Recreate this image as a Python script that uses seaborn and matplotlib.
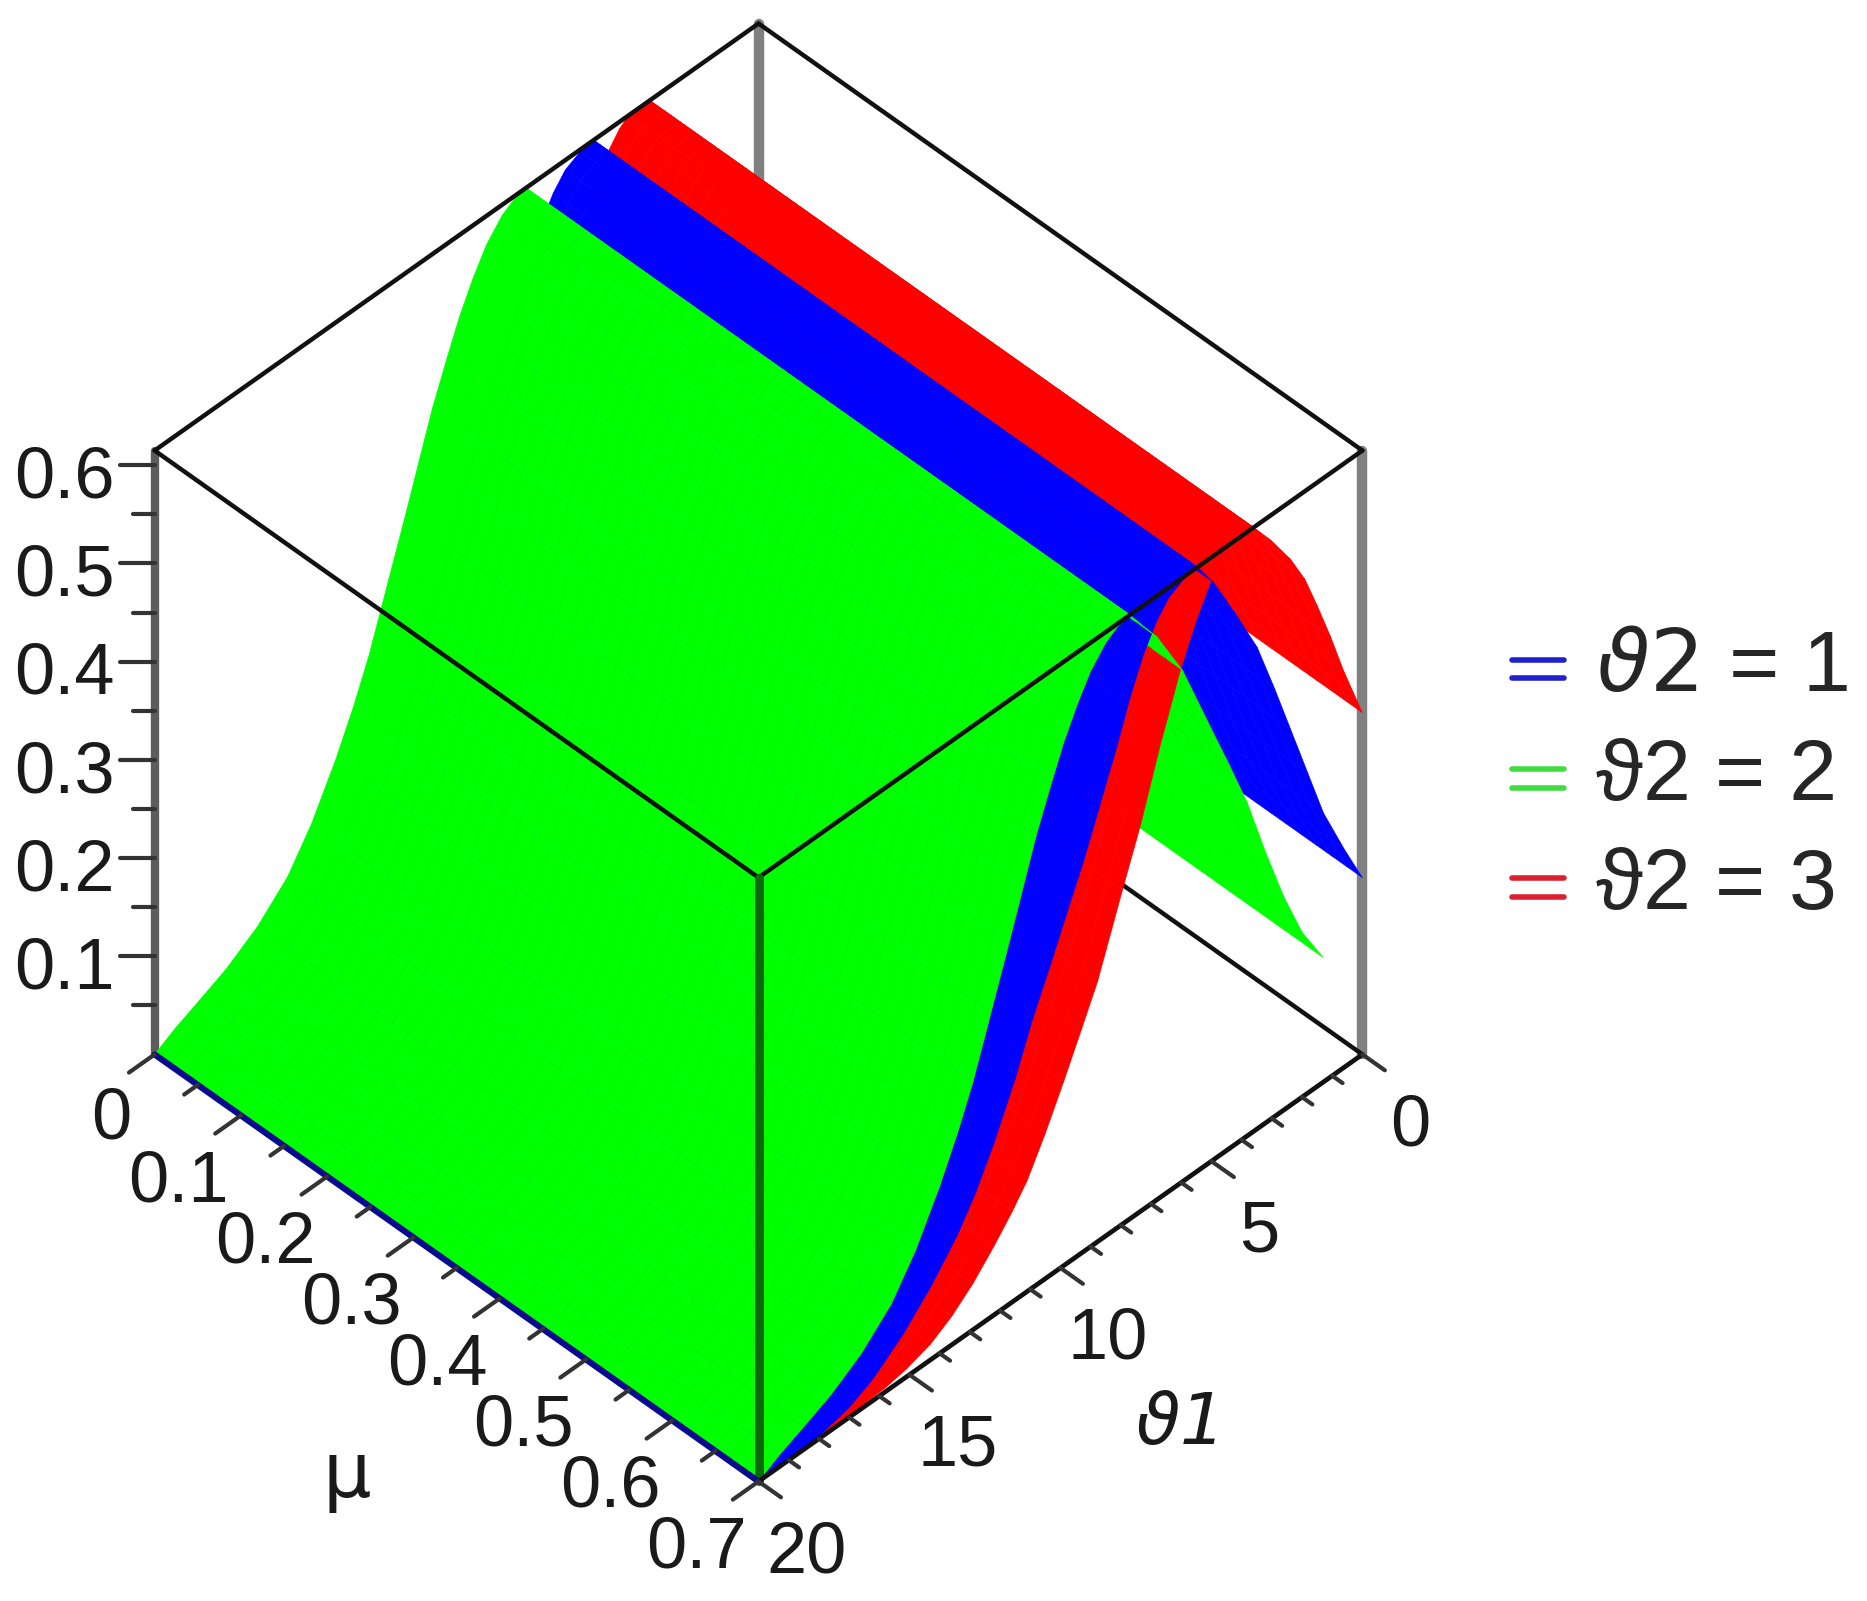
import matplotlib
matplotlib.use('Agg')
import matplotlib.pyplot as plt
import numpy as np
import seaborn as sns
from matplotlib.legend_handler import HandlerBase
from matplotlib.lines import Line2D
from mpl_toolkits.mplot3d import proj3d
from mpl_toolkits.mplot3d.art3d import Poly3DCollection

# values, z does not depend on mu
theta_green = [20, 19.3, 18.5, 17.6, 16.6, 15.6, 14.8, 14, 13.4, 12.9, 12.3, 11.7, 11.2, 10.8, 10.3, 9.9, 9.44, 9, 8.5, 8.1,
               7.7, 7.3, 6.8, 6.4, 5.96, 5, 4.4, 3.81, 3.2, 2.6, 2, 1.3]
z_green = [0, .012, .023, .036, .056, .085, .122, .170, .212, .252, .310, .368, .418, .458, .500, .532, .562, .586, .604, .612,
           .615, .596, .573, .548, .521, .44, .39, .339, .275, .217, .168, .127]
theta_blue = [20, 19, 18, 17.5, 17, 16.2, 15.2, 14.3, 13.4, 12.8, 12.2, 11.5, 10.9, 10.3, 9.77, 9.24, 8.7, 8.11, 7.7, 7.25,
              6.8, 6.4, 5.9, 5.46, 4.93, 4.2, 3.48, 2.9, 2.38, 1.8, 1.29, .6, 0]
z_blue = [0, .001, .003, .006, .010, .022, .046, .074, .108, .138, .175, .225, .275, .318, .358, .397, .442, .492, .530, .565,
          .590, .605, .613, .615, .588, .54, .49, .435, .383, .325, .274, .222, .18]
theta_red = [20, 19, 18, 17, 16.4, 15.8, 15.1, 14.3, 13.6, 12.9, 12.2, 11.6, 11.1, 10.5, 9.9, 9.3, 8.77, 8.3, 7.95, 7.35,
             6.7, 6.03, 5.5, 5, 4.6, 4.3, 3.6, 3, 2.38, 1.9, 1.49, 1.05, .63, .3, 0]
z_red = [0, 0, .001, .002, .003, .004, .008, .016, .029, .047, .07, .092, .113, .148, .187, .228, .265, .308, .340, .393,
         .46, .522, .562, .592, .608, .615, .615, .588, .556, .525, .489, .448, .405, .375, .348]

mu_ticks = [0, .1, .2, .3, .4, .5, .6, .7]
mu_labels = ['0', '0.1', '0.2', '0.3', '0.4', '0.5', '0.6', '0.7']
theta_ticks = [0, 5, 10, 15, 20]
z_ticks = [.1, .2, .3, .4, .5, .6]
legend_labels = [r'$\mathit{\vartheta 2}$ = 1', 'ϑ2 = 2', 'ϑ2 = 3']

MU_MAX, TH_MAX, Z_MAX = .7, 20, .615

sns.set_theme(style='white')
plt.rcParams['font.family'] = ['Liberation Sans', 'DejaVu Sans']
palette = sns.color_palette(['#0000ff', '#00ff00', '#ff0000'])

fig = plt.figure(figsize=(18.67, 16.01), dpi=100)
S = 1436
ax = fig.add_axes([(758.5 - S * .5135) / 1867, (1601 - 752.5 - S * .5135) / 1601, S / 1867, S / 1601],
                  projection='3d', proj_type='ortho', computed_zorder=False)
ax.view_init(elev=45, azim=45)
ax.set_box_aspect((1, 1, 1))
ax.set_xlim(0, TH_MAX, view_margin=0)
ax.set_ylim(0, MU_MAX, view_margin=0)
ax.set_zlim(0, Z_MAX, view_margin=0)
ax.set_xticks([])
ax.set_yticks([])
ax.set_zticks([])
ax.set_axis_off()


def line(ths, mus, zs, color='#111111', lw=3.2, zorder=5):
    ax.plot(ths, mus, zs, color=color, lw=lw, zorder=zorder, solid_capstyle='round', clip_on=False)


def label(th, mu, z, txt, **kw):
    # text goes through the 3d projection once, then sits on the flat axes
    x2, y2, _ = proj3d.proj_transform(th, mu, z, ax.get_proj())
    kw.setdefault('ha', 'center')
    ax.text2D(x2, y2, txt, transform=ax.transData, va='center', color='#1a1a1a', **kw)


# box edges behind the surfaces
line([0, 0], [0, 0], [0, Z_MAX], color='#808080', lw=7.5, zorder=1)
line([20, 20], [0, 0], [0, Z_MAX], color='#5c5c5c', lw=6, zorder=1)
line([0, 0], [MU_MAX, MU_MAX], [0, Z_MAX], color='#808080', lw=7.5, zorder=1)
line([0, 0], [0, MU_MAX], [0, 0], zorder=1)

# all strips go in one collection, so they get depth sorted together
mu_edges = np.linspace(0, MU_MAX, 41)
verts, cols = [], []
for ths, zs, col in [(theta_red, z_red, palette[2]), (theta_blue, z_blue, palette[0]), (theta_green, z_green, palette[1])]:
    for i in range(len(ths) - 1):
        for j in range(len(mu_edges) - 1):
            verts.append([(ths[i], mu_edges[j], zs[i]), (ths[i + 1], mu_edges[j], zs[i + 1]),
                          (ths[i + 1], mu_edges[j + 1], zs[i + 1]), (ths[i], mu_edges[j + 1], zs[i])])
            cols.append(col)
surf = Poly3DCollection(verts, facecolors=cols, edgecolors=cols, linewidths=.4, zorder=2, clip_on=False)
ax.add_collection3d(surf)

# box edges in front
line([20, 0], [MU_MAX, MU_MAX], [Z_MAX, Z_MAX])
line([20, 20], [0, MU_MAX], [Z_MAX, Z_MAX])
line([20, 0], [0, 0], [Z_MAX, Z_MAX])
line([0, 0], [0, MU_MAX], [Z_MAX, Z_MAX])
line([20, 20], [MU_MAX, MU_MAX], [0, Z_MAX], color='#0a6a0a', lw=6.5)
line([20, 20], [0, MU_MAX], [0, 0], color='#0a0a90', lw=4.5)
line([20, 0], [MU_MAX, MU_MAX], [0, 0], lw=3.4)

# ticks
tick_col = '#333333'
for v in np.arange(15) * .05:
    major = np.isclose(v * 10, round(v * 10))
    dth = .85 if major else .45
    line([20, 20 + dth], [v, v], [0, 0], color=tick_col, lw=3)
for v in range(21):
    dmu = .026 if v % 5 == 0 else .012
    line([v, v], [MU_MAX, MU_MAX + dmu], [0, 0], color=tick_col, lw=3)
for v in np.arange(1, 13) * .05:
    major = np.isclose(v * 10, round(v * 10))
    k = 1 if major else .62
    line([20, 20 + .58 * k], [0, -.0203 * k], [v, v], color=tick_col, lw=3)

fs = 52
for v, lab in zip(mu_ticks, mu_labels):
    # the 0 sits a bit closer to the corner
    dth, dmu = (2.6, .019) if v > 0 else (2.25, .028)
    label(20 + dth, v + dmu, 0, lab, fontsize=fs)
for v in theta_ticks:
    label(v + .9, MU_MAX + .0868, 0, str(v), fontsize=fs)
for v in z_ticks:
    label(20 + .66, -.023, v - .014, f'{v:.1f}', fontsize=fs, ha='right')
label(26.7, .457, 0, 'μ', fontsize=fs + 3, family='DejaVu Sans')
label(11.67, .898, 0, 'ϑ1', fontsize=fs, style='italic', family='DejaVu Sans')


class DoubleBar(HandlerBase):
    def create_artists(self, legend, orig, x0, y0, w, h, fontsize, trans):
        gap = 6.8
        mid = y0 + h * .36
        return [Line2D([x0, x0 + w], [mid + gap, mid + gap], color=orig.get_color(), lw=4, transform=trans),
                Line2D([x0, x0 + w], [mid - gap, mid - gap], color=orig.get_color(), lw=4, transform=trans)]


handles = [Line2D([], [], color=c) for c in ['#2020cc', '#40dd40', '#dd2030']]
fig.legend(handles, legend_labels, handler_map={Line2D: DoubleBar()}, loc='center left',
           bbox_to_anchor=(1512 / 1867, 1 - 778 / 1601), frameon=False, fontsize=62,
           handlelength=.6, handletextpad=.37, labelspacing=.34, borderpad=0, borderaxespad=0)

fig.savefig('out.png', dpi=100)
